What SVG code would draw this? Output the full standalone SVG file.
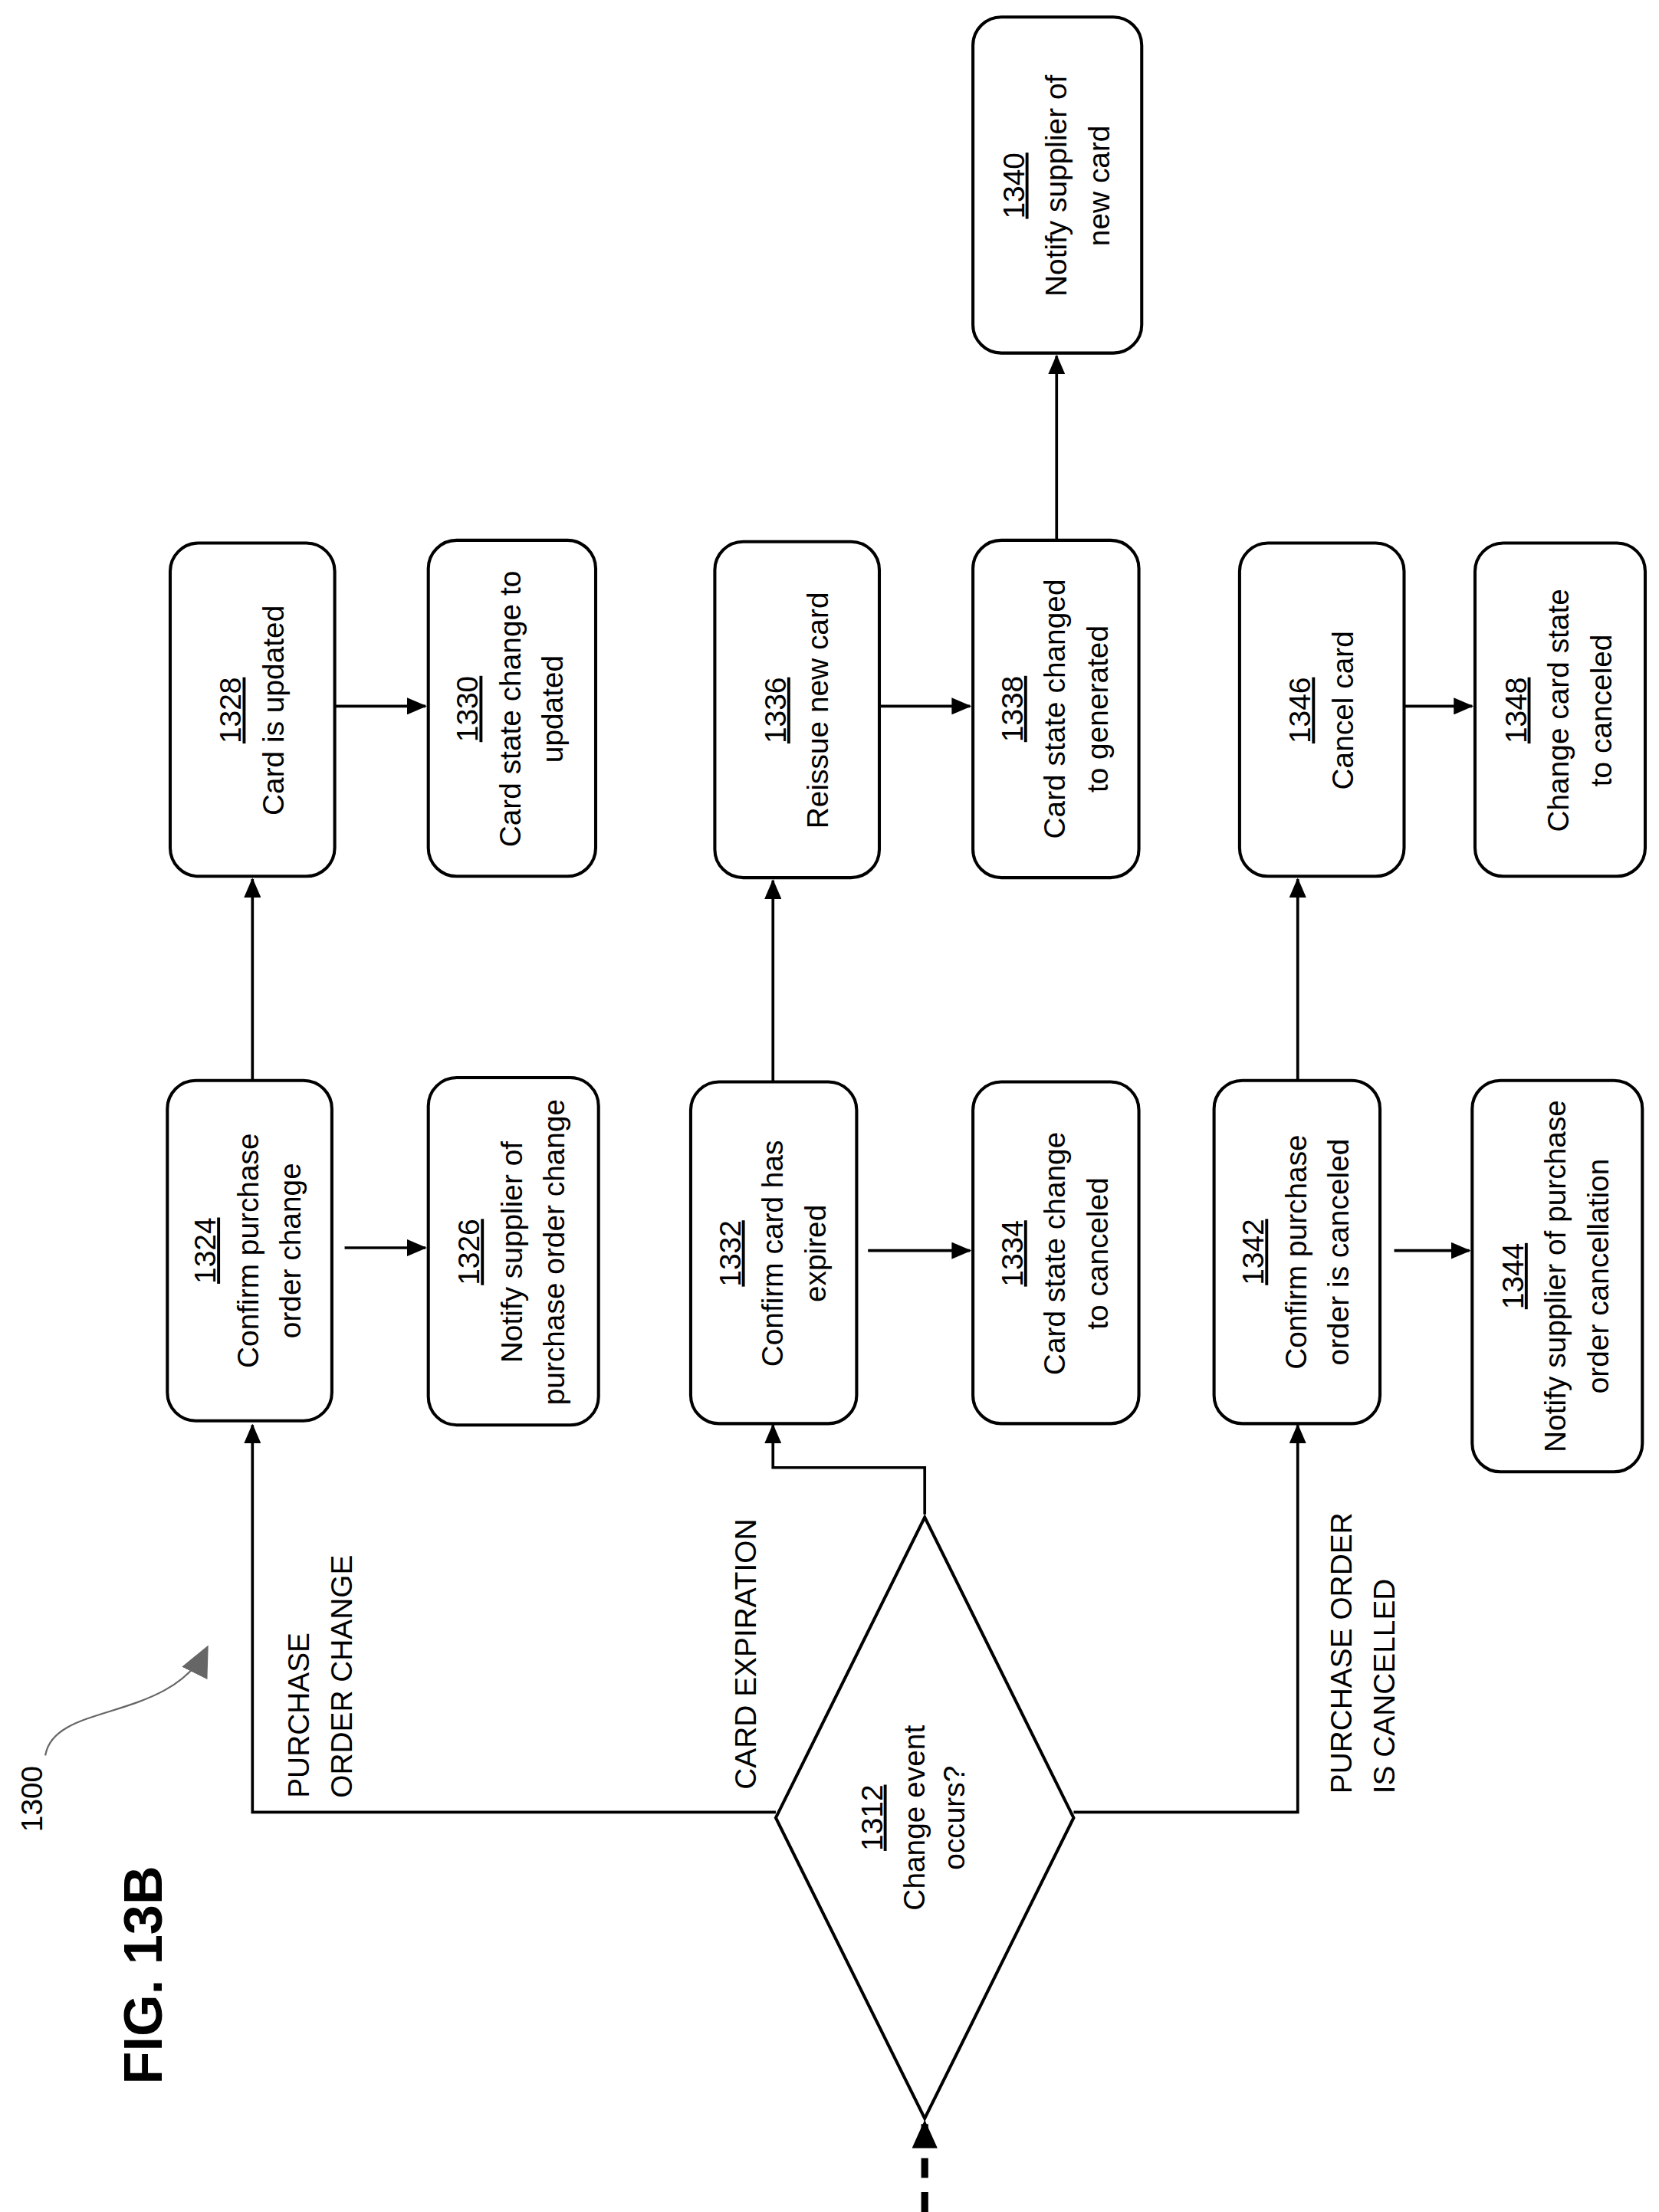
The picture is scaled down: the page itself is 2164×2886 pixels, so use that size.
<svg xmlns="http://www.w3.org/2000/svg" width="2164" height="2886" viewBox="0 0 2164 2886">
<style>
.box{fill:#fff;stroke:#000;stroke-width:2.2}
.t{font-family:"Liberation Sans",Arial,sans-serif;font-size:21px;text-anchor:middle;fill:#000}
.l{font-family:"Liberation Sans",Arial,sans-serif;font-size:21px;fill:#000}
.c{fill:none;stroke:#000;stroke-width:2}
</style>
<defs>
<marker id="a" markerWidth="14" markerHeight="12" refX="13" refY="6" orient="auto" markerUnits="userSpaceOnUse"><path d="M0,0 L14,6 L0,12 z" fill="#000"/></marker>
<marker id="b" markerWidth="20" markerHeight="18" refX="19" refY="9" orient="auto" markerUnits="userSpaceOnUse"><path d="M0,0 L20,9 L0,18 z" fill="#000"/></marker>
<marker id="g" markerWidth="22" markerHeight="20" refX="20" refY="10" orient="auto" markerUnits="userSpaceOnUse"><path d="M0,0 L22,10 L0,20 z" fill="#666"/></marker>
</defs>
<rect width="2164" height="2886" fill="#fff"/>
<g transform="translate(0,2886) rotate(-90) scale(1.85)">
<text x="90" y="114" font-family="Liberation Sans,Arial,sans-serif" font-size="38" font-weight="bold">FIG. 13B</text>
<text x="268" y="30" class="l" font-size="19">1300</text>
<path d="M322,32 C360,38 345,120 398,146" fill="none" stroke="#666" stroke-width="1.2" marker-end="url(#g)"/>
<g id="connectors">
<path d="M0,652 L64,652" style="fill:none;stroke:#000;stroke-width:5;stroke-dasharray:14,10" marker-end="url(#b)"/>
<path class="c" d="M282,547 L282,178 L555,178" marker-end="url(#a)"/>
<path class="c" d="M492,652 L525,652 L525,545 L555,545" marker-end="url(#a)"/>
<path class="c" d="M282,757 L282,915 L555,915" marker-end="url(#a)"/>
<path class="c" d="M798,178 L940,178" marker-end="url(#a)"/>
<path class="c" d="M680,243 L680,300" marker-end="url(#a)"/>
<path class="c" d="M1062,217 L1062,300" marker-end="url(#a)"/>
<path class="c" d="M797,545 L939,545" marker-end="url(#a)"/>
<path class="c" d="M678,612 L678,684" marker-end="url(#a)"/>
<path class="c" d="M1062,600 L1062,684" marker-end="url(#a)"/>
<path class="c" d="M1179,745 L1309,745" marker-end="url(#a)"/>
<path class="c" d="M798,915 L940,915" marker-end="url(#a)"/>
<path class="c" d="M678,983 L678,1036" marker-end="url(#a)"/>
<path class="c" d="M1062,970 L1062,1038" marker-end="url(#a)"/>
</g>
<text x="292" y="218" class="l">PURCHASE</text>
<text x="292" y="248" class="l">ORDER CHANGE</text>
<text x="298" y="533" class="l">CARD EXPIRATION</text>
<text x="295" y="953" class="l">PURCHASE ORDER</text>
<text x="295" y="983" class="l">IS CANCELLED</text>
<g id="n1312"><path class="box" d="M278,547 L490,652 L278,757 L66,652 Z"/>
<text x="278" y="622" class="t" text-decoration="underline">1312</text><text x="278" y="652" class="t">Change event</text><text x="278" y="680" class="t">occurs?</text></g>
<g id="n1324"><rect class="box" x="558" y="118" width="240" height="116" rx="20"/>
<text x="678" y="152" class="t" text-decoration="underline">1324</text><text x="678" y="182" class="t">Confirm purchase</text><text x="678" y="212" class="t">order change</text></g>
<g id="n1326"><rect class="box" x="555" y="302" width="245" height="120" rx="20"/>
<text x="677" y="338" class="t" text-decoration="underline">1326</text><text x="677" y="368" class="t">Notify supplier of</text><text x="677" y="398" class="t">purchase order change</text></g>
<g id="n1328"><rect class="box" x="942" y="120" width="235" height="116" rx="20"/>
<text x="1059" y="170" class="t" text-decoration="underline">1328</text><text x="1059" y="200" class="t">Card is updated</text></g>
<g id="n1330"><rect class="box" x="942" y="302" width="237" height="118" rx="20"/>
<text x="1060" y="337" class="t" text-decoration="underline">1330</text><text x="1060" y="367" class="t">Card state change to</text><text x="1060" y="397" class="t">updated</text></g>
<g id="n1332"><rect class="box" x="556" y="487" width="241" height="117" rx="20"/>
<text x="676" y="522" class="t" text-decoration="underline">1332</text><text x="676" y="552" class="t">Confirm card has</text><text x="676" y="582" class="t">expired</text></g>
<g id="n1334"><rect class="box" x="556" y="686" width="241" height="117" rx="20"/>
<text x="676" y="721" class="t" text-decoration="underline">1334</text><text x="676" y="751" class="t">Card state change</text><text x="676" y="781" class="t">to canceled</text></g>
<g id="n1336"><rect class="box" x="941" y="504" width="237" height="116" rx="20"/>
<text x="1059" y="554" class="t" text-decoration="underline">1336</text><text x="1059" y="584" class="t">Reissue new card</text></g>
<g id="n1338"><rect class="box" x="941" y="686" width="238" height="117" rx="20"/>
<text x="1060" y="721" class="t" text-decoration="underline">1338</text><text x="1060" y="751" class="t">Card state changed</text><text x="1060" y="781" class="t">to generated</text></g>
<g id="n1340"><rect class="box" x="1311" y="686" width="237" height="119" rx="20"/>
<text x="1429" y="722" class="t" text-decoration="underline">1340</text><text x="1429" y="752" class="t">Notify supplier of</text><text x="1429" y="782" class="t">new card</text></g>
<g id="n1342"><rect class="box" x="556" y="856" width="242" height="117" rx="20"/>
<text x="677" y="891" class="t" text-decoration="underline">1342</text><text x="677" y="921" class="t">Confirm purchase</text><text x="677" y="951" class="t">order is canceled</text></g>
<g id="n1344"><rect class="box" x="522" y="1038" width="276" height="120" rx="20"/>
<text x="660" y="1074" class="t" text-decoration="underline">1344</text><text x="660" y="1104" class="t">Notify supplier of purchase</text><text x="660" y="1134" class="t">order cancellation</text></g>
<g id="n1346"><rect class="box" x="942" y="874" width="235" height="116" rx="20"/>
<text x="1059" y="924" class="t" text-decoration="underline">1346</text><text x="1059" y="954" class="t">Cancel card</text></g>
<g id="n1348"><rect class="box" x="942" y="1040" width="235" height="120" rx="20"/>
<text x="1059" y="1076" class="t" text-decoration="underline">1348</text><text x="1059" y="1106" class="t">Change card state</text><text x="1059" y="1136" class="t">to canceled</text></g>
</g>
</svg>
